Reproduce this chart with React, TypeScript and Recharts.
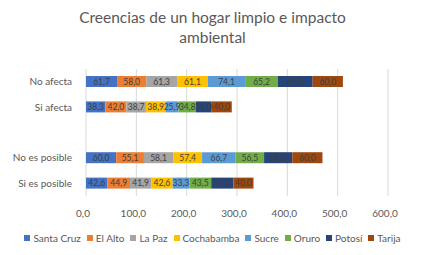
import { BarChart, Bar, XAxis, YAxis, CartesianGrid, LabelList } from 'recharts'

// Categorías (la tercera fila queda vacía como separador)
const categories = ['No afecta', 'Si afecta', '', 'No es posible', 'Si es posible']

// Valores por ciudad, en el mismo orden que las categorías
const santaCruz = [61.7, 38.3, null, 60.0, 42.6]
const elAlto = [58.0, 42.0, null, 55.1, 44.9]
const laPaz = [61.3, 38.7, null, 58.1, 41.9]
const cochabamba = [61.1, 38.9, null, 57.4, 42.6]
const sucre = [74.1, 25.9, null, 66.7, 33.3]
const oruro = [65.2, 34.8, null, 56.5, 43.5]
const potosi = [69.0, 31.0, null, 56.0, 44.0]
const tarija = [60.0, 40.0, null, 60.0, 40.0]

const xTicks = [0, 100, 200, 300, 400, 500, 600]

const series = [
  { key: 'santaCruz', name: 'Santa Cruz', color: '#4472C4', values: santaCruz },
  { key: 'elAlto', name: 'El Alto', color: '#ED7D31', values: elAlto },
  { key: 'laPaz', name: 'La Paz', color: '#A5A5A5', values: laPaz },
  { key: 'cochabamba', name: 'Cochabamba', color: '#FFC000', values: cochabamba },
  { key: 'sucre', name: 'Sucre', color: '#5B9BD5', values: sucre },
  { key: 'oruro', name: 'Oruro', color: '#70AD47', values: oruro },
  { key: 'potosi', name: 'Potosí', color: '#264478', values: potosi },
  { key: 'tarija', name: 'Tarija', color: '#9E480E', values: tarija },
]

const data = categories.map((name, i) => {
  const row: Record<string, string | number | null> = { name }
  series.forEach((s) => {
    row[s.key] = s.values[i]
  })
  return row
})

const fmt = (v: any) =>
  v === null || v === undefined ? '' : Number(v).toFixed(1).replace('.', ',')

// Etiqueta del eje Y en una sola línea
const CategoryTick = ({ x, y, payload }: any) => (
  <text
    x={x}
    y={y}
    dy="0.35em"
    textAnchor="end"
    fontSize={10}
    fill="#595959"
  >
    {payload.value}
  </text>
)

function Legend() {
  return (
    <div
      style={{
        position: 'absolute',
        top: 232,
        left: 0,
        width: 425,
        display: 'flex',
        justifyContent: 'center',
        gap: 6,
        fontSize: 10,
        color: '#595959',
      }}
    >
      {series.map((s) => (
        <span key={s.key} style={{ display: 'flex', alignItems: 'center' }}>
          <span
            style={{
              display: 'inline-block',
              width: 6,
              height: 6,
              background: s.color,
              marginRight: 3,
            }}
          ></span>
          {s.name}
        </span>
      ))}
    </div>
  )
}

export default function App() {
  return (
    <div
      style={{
        position: 'absolute',
        left: 0,
        top: 0,
        width: 425,
        height: 255,
        background: '#fff',
        fontFamily: 'Lato, "Open Sans", sans-serif',
      }}
    >
      {/* Título */}
      <div
        style={{
          position: 'absolute',
          top: 7,
          left: 0,
          width: 425,
          textAlign: 'center',
          fontSize: 15.5,
          lineHeight: '20px',
          color: '#595959',
        }}
      >
        Creencias de un hogar limpio e impacto
        <br />
        ambiental
      </div>

      <BarChart
        width={425}
        height={255}
        data={data}
        layout="vertical"
        barSize={11}
        margin={{ top: 69, right: 37, bottom: 39, left: 0 }}
      >
        <CartesianGrid horizontal={false} stroke="#d9d9d9" />
        <XAxis
          type="number"
          domain={[0, 600]}
          ticks={xTicks}
          height={20}
          axisLine={false}
          tickLine={false}
          tickMargin={8}
          tickFormatter={fmt}
          tick={{ fontSize: 10, fill: '#595959', dx: -3 }}
        />
        <YAxis
          type="category"
          dataKey="name"
          width={86}
          axisLine={false}
          tickLine={false}
          tickMargin={8}
          tick={<CategoryTick />}
        />
        {series.map((s) => (
          <Bar
            key={s.key}
            dataKey={s.key}
            name={s.name}
            stackId="a"
            fill={s.color}
            isAnimationActive={false}
          >
            <LabelList
              dataKey={s.key}
              position="center"
              formatter={fmt}
              style={{ fontSize: 8.5, fill: '#404040' }}
            />
          </Bar>
        ))}
      </BarChart>

      <Legend />
    </div>
  )
}
